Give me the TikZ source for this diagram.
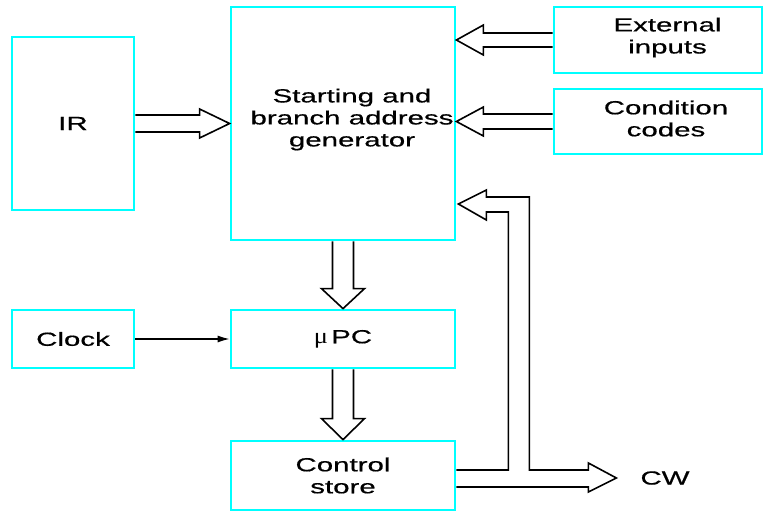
\documentclass[tikz,border=0pt]{standalone}
\usepackage{fontspec}
\setmainfont{Liberation Sans}[FakeStretch=1.55,FakeBold=0.6]
\newfontfamily\mufont{Liberation Serif}[FakeStretch=1.2]
\usetikzlibrary{calc,arrows.meta}

\definecolor{boxcyan}{rgb}{0.000000, 1.000000, 1.000000}

\tikzset{
  block/.style={draw=boxcyan, line width=2.8pt, inner sep=0pt, align=center},
  blocktext/.style={inner sep=0pt, align=center},
  bus/.style={draw=black, line width=1.6pt, line join=miter},
  clockline/.style={draw=black, line width=1.3pt, -{Latex[length=12pt,width=7pt]}},
}

% horizontal bus: start, tip, shaft half width, head half width, head length (signed)
\newcommand{\hbus}[5]{%
\draw[bus] ($#1+(0,-#3)$) -- ($#2+({-(#5)},-#3)$) -- ($#2+({-(#5)},-#4)$) -- #2
  -- ($#2+({-(#5)},#4)$) -- ($#2+({-(#5)},#3)$) -- ($#1+(0,#3)$);}
% vertical bus (downwards): start, tip, shaft half width, head half width, head length
\newcommand{\vbus}[5]{%
\draw[bus] ($#1+(-#3,0)$) -- ($#2+(-#3,-#5)$) -- ($#2+(-#4,-#5)$) -- #2
  -- ($#2+(#4,-#5)$) -- ($#2+(#3,-#5)$) -- ($#1+(#3,0)$);}

\begin{document}
\begin{tikzpicture}[x=1pt,y=-1pt,font=\fontsize{19}{22}\selectfont]
\useasboundingbox (0,0) rectangle (763,512);

% boxes
\node[block, minimum width=122, minimum height=173] (ir) at (73,123.5) {IR};
\node[block, minimum width=224, minimum height=233] (gen) at (343,123.5) {};
\node[block, minimum width=208, minimum height=66] (ext) at (658,40) {};
\node[block, minimum width=208, minimum height=65] (cond) at (658,121.5) {};
\node[block, minimum width=122, minimum height=58] (clock) at (73,339) {Clock};
\node[block, minimum width=224, minimum height=58] (upc) at (343,339) {{\mufont\fontsize{22}{22}\selectfont μ}\,PC};
\node[block, minimum width=224, minimum height=69] (cs) at (343,475.5) {Control\\store};

% texts
\node[blocktext] (gentext) at ($(gen.center)+(9,-4)$) {Starting and\\branch address\\generator};
\node[blocktext] (exttext) at ($(ext.center)+(9.5,-2.5)$) {External\\inputs};
\node[blocktext] (condtext) at ($(cond.center)+(8,-3)$) {Condition\\codes};
\node[blocktext] (cw) at (665,478) {CW};

% bus arrows
\coordinate (exttip) at (gen.east |- ext.west);
\coordinate (condtip) at (gen.east |- cond.west);
\coordinate (fbtip) at ($(gen.east)+(2,80.5)$);
\hbus{(ir.east)}{(gen.west)}{8.5}{14.5}{30}
\hbus{(ext.west)}{(exttip)}{7}{15}{-27}
\hbus{(cond.west)}{(condtip)}{7.5}{14.5}{-27}
\vbus{(gen.south)}{(upc.north)}{10.5}{21.5}{20}
\vbus{(upc.south)}{(cs.north)}{10.5}{21.5}{21}

% feedback to generator and out to CW
\draw[bus] ($(cs.east)+(0,-5.5)$) -- ++(52,0) |- ($(fbtip)+(28,8)$) -- ++(0,8) -- (fbtip)
  -- ++(28,-14) -- ++(0,7) -| ($(cs.east)+(73,-5.5)$) -- ++(59,0) -- ++(0,-7)
  -- ++(28,15) -- ++(-28,14) -- ++(0,-5) -- ($(cs.east)+(0,11.5)$);

% clock line
\draw[clockline] (clock.east) -- (upc.west);
\end{tikzpicture}
\end{document}
